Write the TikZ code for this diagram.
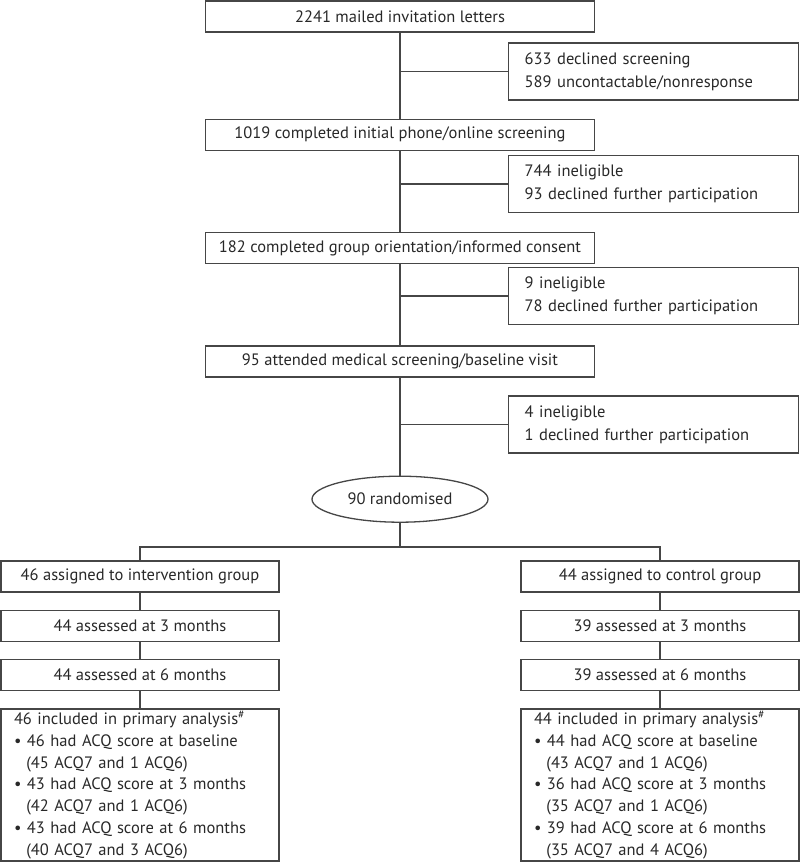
\documentclass[tikz,border=0pt]{standalone}
\usepackage{fontspec}
\setmainfont{PT Sans}
\usepackage{tikz}
\usetikzlibrary{positioning, shapes.geometric}
\definecolor{linegray}{RGB}{70,70,70}
\definecolor{textgray}{RGB}{40,40,40}

\begin{document}
\begin{tikzpicture}[
        x=1pt, y=-1pt,
        node distance=81pt,
        mainbox/.style={draw=linegray, line width=1.3pt, inner sep=0pt, text=textgray,
                    minimum width=389pt, minimum height=31pt,
                    font=\fontsize{16.5}{23}\selectfont},
        sidebox/.style={mainbox, anchor=west, minimum width=289pt, minimum height=57pt,
                    text width=258pt, inner xsep=16pt, align=left},
        armbox/.style={mainbox, minimum width=278pt, minimum height=31pt},
        listbox/.style={armbox, minimum height=152pt, text width=252pt,
                    inner xsep=13pt, align=left, font=\fontsize{16.5}{21.7}\selectfont},
        link/.style={draw=linegray, line width=1.3pt}
      ]
        \useasboundingbox (0,0) rectangle (800,865);
        % main column
        \node[mainbox] (mailed) at (400,16.5) {2241 mailed invitation letters};
        \node[mainbox, below=86pt of mailed] (screened) {1019 completed initial phone/online screening};
        \node[mainbox, below=of screened] (consent) {182 completed group orientation/informed consent};
        \node[mainbox, below=of consent] (baseline) {95 attended medical screening/baseline visit};
        \node[ellipse, draw=linegray, line width=1.3pt, text=textgray, inner sep=0pt,
              minimum width=176pt, minimum height=46pt, font=\fontsize{16.5}{23}\selectfont,
              below=98pt of baseline] (rand) {90 randomised};
        % exclusions
        \node[sidebox] (excl1) at (508,71.5) {633 declined screening\\589 uncontactable/nonresponse};
        \node[sidebox] (excl2) at (508,184) {744 ineligible\\93 declined further participation};
        \node[sidebox] (excl3) at (508,296) {9 ineligible\\78 declined further participation};
        \node[sidebox] (excl4) at (508,424.5) {4 ineligible\\1 declined further participation};
        % arms
        \node[armbox] (int1) at (140,576.5) {46 assigned to intervention group};
        \node[armbox, below=17pt of int1] (int2) {44 assessed at 3 months};
        \node[armbox, below=17pt of int2] (int3) {44 assessed at 6 months};
        \node[listbox, below=17pt of int3] (int4) {46 included in primary analysis\textsuperscript{\#}\\
              \textbullet\ 46 had ACQ score at baseline\\\hspace*{0.75em}(45 ACQ7 and 1 ACQ6)\\
              \textbullet\ 43 had ACQ score at 3 months\\\hspace*{0.75em}(42 ACQ7 and 1 ACQ6)\\
              \textbullet\ 43 had ACQ score at 6 months\\\hspace*{0.75em}(40 ACQ7 and 3 ACQ6)};
        \node[armbox] (ctl1) at (660,576.5) {44 assigned to control group};
        \node[armbox, below=17pt of ctl1] (ctl2) {39 assessed at 3 months};
        \node[armbox, below=17pt of ctl2] (ctl3) {39 assessed at 6 months};
        \node[listbox, below=17pt of ctl3] (ctl4) {44 included in primary analysis\textsuperscript{\#}\\
              \textbullet\ 44 had ACQ score at baseline\\\hspace*{0.75em}(43 ACQ7 and 1 ACQ6)\\
              \textbullet\ 36 had ACQ score at 3 months\\\hspace*{0.75em}(35 ACQ7 and 1 ACQ6)\\
              \textbullet\ 39 had ACQ score at 6 months\\\hspace*{0.75em}(35 ACQ7 and 4 ACQ6)};
        % connectors
        \draw[link] (mailed)--(screened);
        \draw[link] (screened)--(consent);
        \draw[link] (consent)--(baseline);
        \draw[link] (baseline)--(rand);
        \draw[link] (excl1.west)--(excl1.west -| mailed.south);
        \draw[link] (excl2.west)--(excl2.west -| mailed.south);
        \draw[link] (excl3.west)--(excl3.west -| mailed.south);
        \draw[link] (excl4.west)--(excl4.west -| mailed.south);
        \draw[link] (rand.south)--++(0,24) coordinate (split);
        \draw[link] (int1.north) |- (split) -| (ctl1.north);
        \draw[link] (int1)--(int2);
        \draw[link] (int2)--(int3);
        \draw[link] (int3)--(int4);
        \draw[link] (ctl1)--(ctl2);
        \draw[link] (ctl2)--(ctl3);
        \draw[link] (ctl3)--(ctl4);
      \end{tikzpicture}
\end{document}
